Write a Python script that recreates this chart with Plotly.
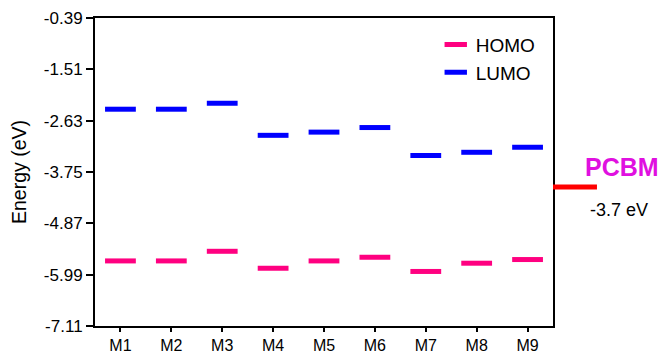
import plotly.graph_objects as go

categories = ["M1", "M2", "M3", "M4", "M5", "M6", "M7", "M8", "M9"]
homo = [-5.69, -5.69, -5.48, -5.85, -5.69, -5.61, -5.92, -5.74, -5.66]
lumo = [-2.38, -2.38, -2.25, -2.95, -2.88, -2.78, -3.39, -3.32, -3.21]
y_ticks = [-0.39, -1.51, -2.63, -3.75, -4.87, -5.99, -7.11]
y_tick_labels = ["-0.39", "-1.51", "-2.63", "-3.75", "-4.87", "-5.99", "-7.11"]
pcbm_level = -4.08
pcbm_label = "-3.7 eV"

xpos = list(range(1, len(categories) + 1))
FONT = "Liberation Sans, Arial, Helvetica, sans-serif"

fig = go.Figure()
fig.add_trace(go.Scatter(
    x=xpos, y=homo, mode="markers", name="HOMO",
    marker=dict(symbol="line-ew", size=22, color="#FF0080",
                line=dict(color="#FF0080", width=5)),
))
fig.add_trace(go.Scatter(
    x=xpos, y=lumo, mode="markers", name="LUMO",
    marker=dict(symbol="line-ew", size=22, color="#0000FF",
                line=dict(color="#0000FF", width=5)),
))

fig.add_shape(type="line", xref="paper", yref="y", x0=1.0, x1=1.096,
              y0=pcbm_level, y1=pcbm_level,
              line=dict(color="#FF0000", width=5))
fig.add_annotation(xref="paper", yref="y", x=1.0655, y=pcbm_level,
                   yshift=20, text="<b>PCBM</b>", showarrow=False,
                   xanchor="left", yanchor="middle",
                   font=dict(family=FONT, size=25, color="#E010E0"))
fig.add_annotation(xref="paper", yref="y", x=1.0764, y=pcbm_level,
                   yshift=-23, text=pcbm_label, showarrow=False,
                   xanchor="left", yanchor="middle",
                   font=dict(family=FONT, size=18, color="#000000"))

fig.update_layout(
    width=660, height=354,
    margin=dict(l=95, r=107, t=18, b=28),
    paper_bgcolor="white", plot_bgcolor="white",
    font=dict(family=FONT, size=17, color="black"),
    showlegend=True,
    legend=dict(x=0.744, y=0.975, xanchor="left", yanchor="top",
                bgcolor="rgba(0,0,0,0)", font=dict(size=19),
                itemwidth=30, tracegroupgap=0),
)
fig.update_xaxes(
    range=[0.5, len(categories) + 0.5], tickvals=xpos, ticktext=categories,
    showline=True, linecolor="black", linewidth=2, mirror=True,
    ticks="outside", ticklen=4, tickwidth=2, tickcolor="black",
    showgrid=False, zeroline=False, tickfont=dict(size=16), automargin=False,
)
fig.update_yaxes(
    range=[y_ticks[-1], y_ticks[0]], tickvals=y_ticks, ticktext=y_tick_labels,
    showline=True, linecolor="black", linewidth=2, mirror=True,
    ticks="outside", ticklen=7, tickwidth=2, tickcolor="black",
    showgrid=False, zeroline=False, tickfont=dict(size=17), automargin=False,
    title=dict(text="Energy (eV)", font=dict(size=19.5), standoff=12),
)

fig.write_html(
    "out.html",
    config={"displayModeBar": False},
    post_script="document.body.style.margin='0';document.body.style.overflow='hidden';",
)
